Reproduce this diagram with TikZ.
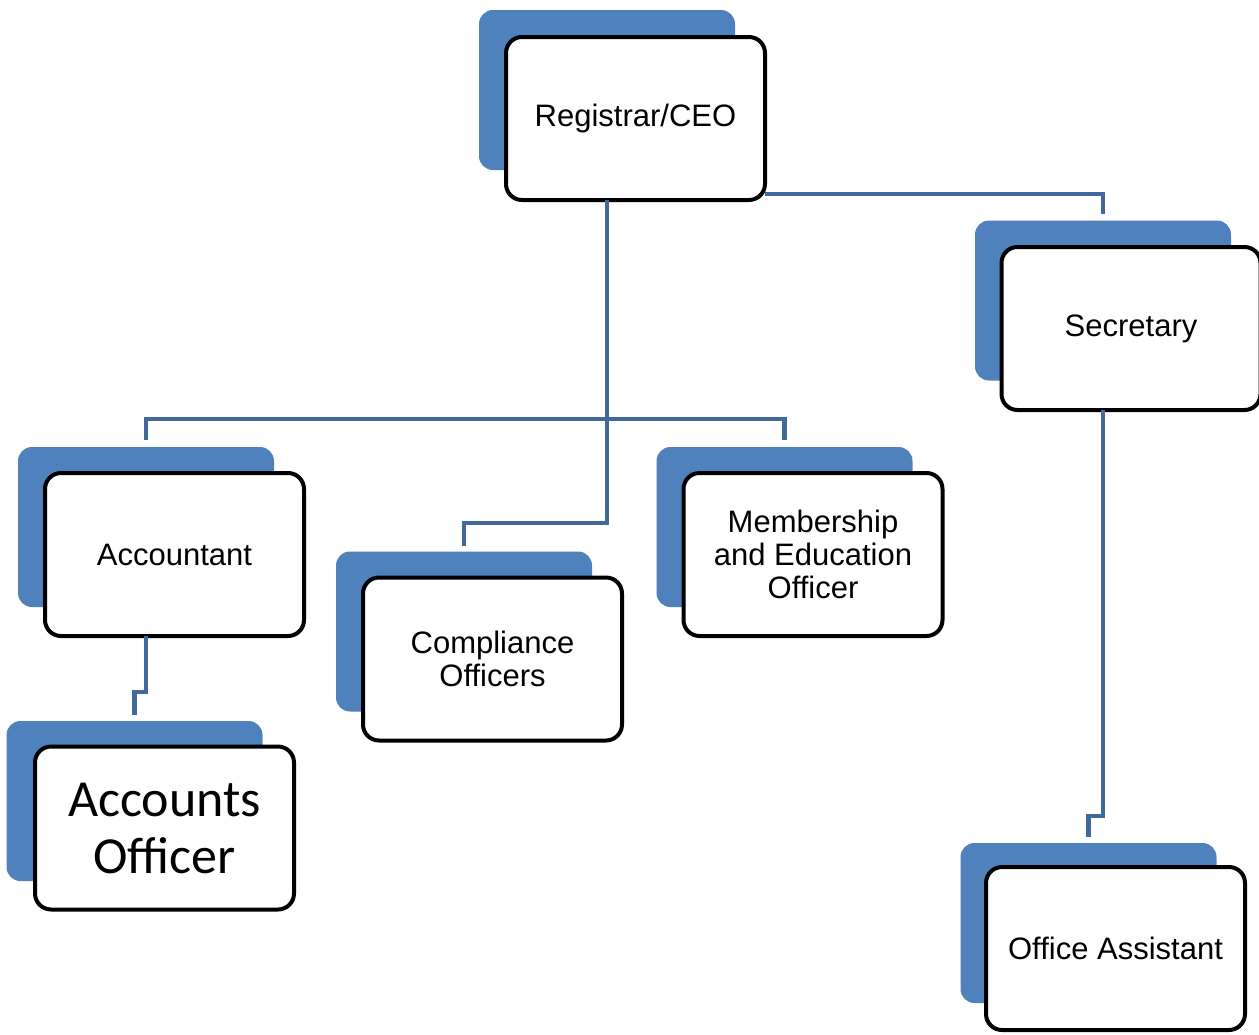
\documentclass[tikz,border=0pt]{standalone}
\usepackage{fontspec}
\setmainfont{Liberation Sans}
\newfontfamily\calibfont{Carlito}
\usetikzlibrary{calc}
\definecolor{shadowblue}{HTML}{4F81BD}
\definecolor{linkblue}{HTML}{41699E}
\begin{document}
\begin{tikzpicture}[x=1pt,y=-1pt,
  back/.style={fill=shadowblue, draw=none, rounded corners=14pt,
    minimum width=256pt, minimum height=160pt, inner sep=0pt, outer sep=0pt},
  front/.style={fill=white, draw=black, line width=4pt, rounded corners=16pt,
    minimum width=259pt, minimum height=163pt, inner sep=0pt, outer sep=0pt,
    align=center, font=\fontsize{31}{33}\selectfont},
  link/.style={draw=linkblue, line width=4.5pt}]
\useasboundingbox (0,0) rectangle (1259,1034);
\fill[white] (0,0) rectangle (1259,1034);

% Registrar/CEO
\node[back]  (ceosh) at (607,90) {};
\node[front] (ceo)   at (635.5,118.5) {Registrar/CEO};
% Secretary
\node[back]  (secsh) at (1103,300.5) {};
\node[front] (sec)   at (1131,328.5) {Secretary};
% Accountant
\node[back]  (accsh) at (146,527) {};
\node[front] (acc)   at (174.5,554.5) {Accountant};
% Compliance
\node[back]  (comsh) at (464,631.5) {};
\node[front] (com)   at (492.5,659) {Compliance\\Officers};
% Membership
\node[back]  (memsh) at (784.5,527) {};
\node[front] (mem)   at (813,554.5) {Membership\\and Education\\Officer};
% Accounts Officer
\node[back]  (aosh) at (134.5,801) {};
\node[front, font=\calibfont\fontsize{52}{57}\selectfont] (ao) at (164.5,828) {Accounts\\Officer};
% Office Assistant
\node[back]  (oash) at (1088.5,923) {};
\node[front] (oa)   at (1115.5,948.5) {Office Assistant};

% connectors
\coordinate (ceoR) at ($(ceo.south east)+(0,-6)$);
\draw[link] (ceoR) -- (secsh.north |- ceoR) -- ($(secsh.north)+(0,-7)$);

\coordinate (ceoB) at (ceosh.center |- ceo.south);
\draw[link] (ceoB) -- (ceosh.center |- 0,523) -- (comsh.north |- 0,523) -- ($(comsh.north)+(0,-6)$);

\draw[link] ($(accsh.north)+(0,-7)$) -- (accsh.north |- 0,419) -- (memsh.north |- 0,419) -- ($(memsh.north)+(0,-7)$);

\coordinate (accB) at (accsh.center |- acc.south);
\draw[link] (accB) -- (accsh.center |- 0,692) -- (aosh.north |- 0,692) -- ($(aosh.north)+(0,-6)$);

\coordinate (secB) at (secsh.center |- sec.south);
\draw[link] (secB) -- (secsh.center |- 0,816) -- (oash.north |- 0,816) -- ($(oash.north)+(0,-6)$);
\end{tikzpicture}
\end{document}
